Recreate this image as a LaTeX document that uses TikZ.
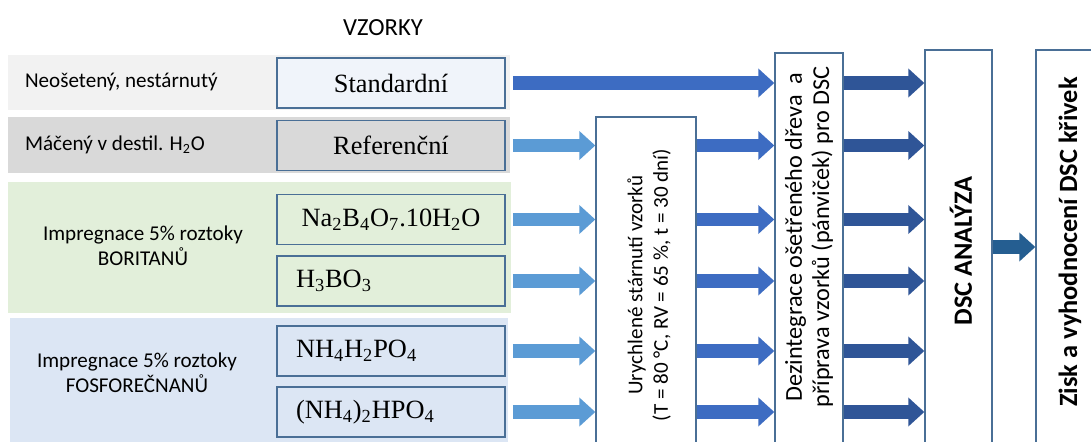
\documentclass[tikz,border=0pt]{standalone}
\usepackage{fontspec}
\setmainfont{Liberation Serif}
\newfontfamily\sansf{Carlito}
\usetikzlibrary{arrows.meta}

\definecolor{bandgrey}{HTML}{F2F2F2}
\definecolor{banddark}{HTML}{D9D9D9}
\definecolor{bandgreen}{HTML}{E2EFDA}
\definecolor{bandblue}{HTML}{DCE6F4}
\definecolor{boxblue}{HTML}{4A6F96}
\definecolor{stdfill}{HTML}{F0F4FA}
\definecolor{arrlight}{HTML}{5B9BD5}
\definecolor{arrmid}{HTML}{3D6CC2}
\definecolor{arrdark}{HTML}{2F5597}
\definecolor{arrdeep}{HTML}{255E91}

\begin{document}
\begin{tikzpicture}[
  x=0.02cm, y=-0.02cm,
  every node/.style={inner sep=1pt},
  sample/.style={draw=boxblue,line width=1pt,minimum width=4.56cm,minimum height=1cm,
    font=\fontsize{15}{18}\selectfont},
  leftsample/.style={sample,text width=3.8cm,align=left},
  procbox/.style={draw=boxblue,line width=0.8pt,fill=white},
  cat/.style={font=\sansf\fontsize{12}{14.5}\selectfont,align=center},
  proctext/.style={font=\sansf\fontsize{12}{14.5}\selectfont,align=center,rotate=90},
  blockarr/.style={line width=0.28cm,-{Triangle[length=0.32cm,width=0.56cm]}}
]
  \useasboundingbox (0,0) rectangle (1091,442);
  \clip (0,0) rectangle (1091,442);

  % coloured bands of the sample groups
  \fill[bandgrey] (8,55) rectangle (510,110);
  \fill[banddark] (8,117) rectangle (510,173);
  \fill[bandgreen] (8,182) rectangle (511,313);
  \fill[bandblue] (10,318) rectangle (508,450);

  \node[font=\sansf\fontsize{14}{17}\selectfont] (title) at (383,28) {VZORKY};

  \node[cat,anchor=west] (lbl1) at (23,82) {Neošetený, nestárnutý};
  \node[cat,anchor=west] (lbl2) at (23,145) {Máčený v destil. H\textsubscript{2}O};
  \node[cat] (lbl3) at (143,246) {Impregnace 5\% roztoky\\BORITANŮ};
  \node[cat] (lbl4) at (137,373) {Impregnace 5\% roztoky\\FOSFOREČNANŮ};

  % samples
  \node[sample,fill=stdfill] (std) at (391,83) {Standardní};
  \node[sample,fill=banddark] (ref) at (391,145.5) {Referenční};
  \node[sample,fill=bandgreen] (bor1) at (391,219.5)
    {Na\textsubscript{2}B\textsubscript{4}O\textsubscript{7}.10H\textsubscript{2}O};
  \node[leftsample,fill=bandgreen] (bor2) at (391,281)
    {H\textsubscript{3}BO\textsubscript{3}};
  \node[leftsample,fill=bandblue] (fos1) at (391,351)
    {NH\textsubscript{4}H\textsubscript{2}PO\textsubscript{4}};
  \node[leftsample,fill=bandblue] (fos2) at (391,412)
    {(NH\textsubscript{4})\textsubscript{2}HPO\textsubscript{4}};

  % process steps (open at the bottom)
  \node[procbox,minimum width=2cm,minimum height=7cm] (ury) at (646,292) {};
  \node[procbox,minimum width=1.36cm,minimum height=8.4cm] (dez) at (809,263) {};
  \node[procbox,minimum width=1.34cm,minimum height=8.4cm] (dsc) at (958.5,260) {};
  \node[procbox,minimum width=1.68cm,minimum height=8.4cm] (zisk) at (1078,260) {};

  \node[proctext] (urytxt) at (649,285)
    {Urychlené stárnutí vzorků\\(T = 80 °C, RV = 65 \%, t = 30 dní)};
  \node[proctext,font=\sansf\fontsize{13.8}{15.5}\selectfont] (deztxt) at (809,237)
    {Dezintegrace ošetřeného dřeva~ a\\příprava vzorků (pánviček) pro DSC};
  \node[proctext,font=\sansf\bfseries\fontsize{15}{18}\selectfont] (dsctxt) at (961,251)
    {DSC ANALÝZA};
  \node[proctext,font=\sansf\bfseries\fontsize{15}{18}\selectfont] (zisktxt) at (1070,242)
    {Zisk a vyhodnocení DSC křivek};

  \draw[blockarr,arrmid,shorten <=0.14cm] (std.east) -- (std.east -| dez.west);
  \foreach \s in {ref,bor1,bor2,fos1,fos2} {
    \draw[blockarr,arrlight,shorten <=0.14cm] (\s.east) -- (\s.east -| ury.west);
    \draw[blockarr,arrmid] (\s.east -| ury.east) -- (\s.east -| dez.west);
  }
  \foreach \s in {std,ref,bor1,bor2,fos1,fos2}
    \draw[blockarr,arrdark] (\s.east -| dez.east) -- (\s.east -| dsc.west);

  \coordinate (mid) at (0,247);
  \draw[blockarr,arrdeep] (dsc.east |- mid) -- (zisk.west |- mid);
\end{tikzpicture}
\end{document}
